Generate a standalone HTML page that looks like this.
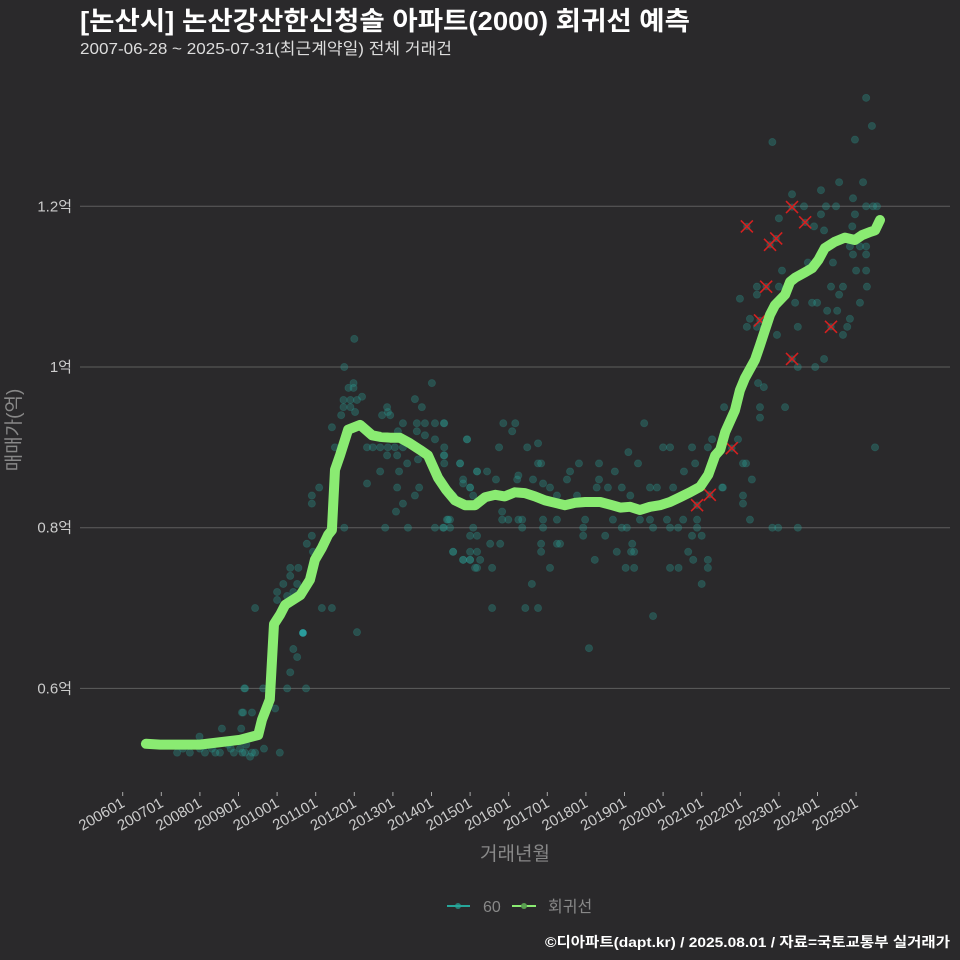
<!DOCTYPE html>
<html><head><meta charset="utf-8">
<style>
html,body{margin:0;padding:0;background:#2a292b;}
svg{display:block;font-family:"Liberation Sans","Noto Sans CJK KR",sans-serif;}
</style></head>
<body>
<svg id="chart" width="960" height="960" viewBox="0 0 960 960">
<rect width="960" height="960" fill="#2a292b"/>
<text x="80" y="30" fill="#ffffff" font-size="26" font-weight="bold" textLength="610" lengthAdjust="spacingAndGlyphs">[논산시] 논산강산한신청솔 아파트(2000) 회귀선 예측</text>
<text x="80" y="54" fill="#dddddd" font-size="16" textLength="372" lengthAdjust="spacingAndGlyphs">2007-06-28 ~ 2025-07-31(최근계약일) 전체 거래건</text>
<g id="grid"></g>
<g id="yticks"></g>
<g id="xticks"></g>
<g id="points"></g>
<g id="outliers"></g>
<g id="line"></g>
<text x="20" y="430" fill="#888888" font-size="19" text-anchor="middle" transform="rotate(-90 20 430)">매매가(억)</text>
<text x="515" y="860" fill="#888888" font-size="19" text-anchor="middle">거래년월</text>
<g>
<g>
<line x1="447" y1="906" x2="470" y2="906" stroke="#26a69a" stroke-width="2"/>
<circle cx="458" cy="906" r="3" fill="#26a69a" opacity="0.7"/>
<text x="483" y="912" fill="#888888" font-size="16">60</text></g>
<g>
<line x1="512" y1="906" x2="536" y2="906" stroke="#8aeb72" stroke-width="2"/>
<circle cx="524" cy="906" r="3" fill="#5aa050"/>
<text x="548" y="912" fill="#888888" font-size="16">회귀선</text></g>
</g>
<text x="950" y="947" fill="#ffffff" font-size="14" font-weight="bold" text-anchor="end" textLength="405" lengthAdjust="spacingAndGlyphs">©디아파트(dapt.kr) / 2025.08.01 / 자료=국토교통부 실거래가</text>
</svg>
<script>
const yTicks = [0.6, 0.8, 1.0, 1.2];
const yTickLabels = ["0.6억", "0.8억", "1억", "1.2억"];
const xTickYears = [2006,2007,2008,2009,2010,2011,2012,2013,2014,2015,2016,2017,2018,2019,2020,2021,2022,2023,2024,2025];
const xTickLabels = ["200601","200701","200801","200901","201001","201101","201201","201301","201401","201501","201601","201701","201801","201901","202001","202101","202201","202301","202401","202501"];
const lineYears = [2006.60,2006.97,2008.0,2009.04,2009.51,2009.61,2009.81,2009.92,2010.08,2010.21,2010.60,2010.85,2010.98,2011.16,2011.32,2011.42,2011.50,2011.63,2011.84,2012.15,2012.46,2012.67,2012.93,2013.18,2013.44,2013.70,2013.91,2014.17,2014.38,2014.61,2014.87,2015.13,2015.39,2015.65,2015.90,2016.16,2016.42,2016.68,2016.94,2017.20,2017.46,2017.72,2017.98,2018.37,2018.68,2018.89,2019.14,2019.40,2019.66,2019.92,2020.18,2020.44,2020.70,2020.96,2021.17,2021.35,2021.48,2021.61,2021.86,2021.99,2022.12,2022.38,2022.51,2022.64,2022.77,2022.90,2023.16,2023.29,2023.42,2023.68,2023.86,2024.02,2024.19,2024.45,2024.71,2024.97,2025.15,2025.36,2025.49,2025.62];
const lineValues = [0.531,0.530,0.530,0.536,0.542,0.561,0.586,0.680,0.692,0.704,0.716,0.735,0.760,0.775,0.791,0.797,0.872,0.890,0.922,0.928,0.915,0.913,0.912,0.912,0.905,0.897,0.890,0.862,0.847,0.834,0.828,0.828,0.838,0.841,0.839,0.844,0.843,0.839,0.834,0.831,0.828,0.831,0.832,0.832,0.828,0.825,0.826,0.822,0.826,0.828,0.832,0.838,0.844,0.851,0.866,0.890,0.897,0.919,0.946,0.971,0.986,1.009,1.027,1.046,1.065,1.077,1.090,1.106,1.111,1.118,1.123,1.133,1.148,1.156,1.161,1.158,1.164,1.168,1.170,1.183];
const pointYears = [2007.41,2007.56,2007.74,2007.92,2008.13,2008.31,2008.52,2008.73,2008.88,2009.04,2009.17,2009.30,2009.43,2009.66,2010.07,2007.60,2008.00,2008.40,2008.80,2009.10,2009.20,2009.35,
2009.07,2009.12,2009.15,2009.43,2008.57,2007.99,
2010.34,2010.55,2010.34,2010.16,2010.52,2010.0,2010.26,2010.42,2010.0,2011.16,2011.42,2012.07,2010.42,2010.52,2010.34,2009.17,2009.64,2010.26,2010.75,2009.09,2009.35,2009.95,
2011.09,2010.90,2010.90,2010.90,2010.77,2010.93,
2012.0,2011.74,2011.98,2011.85,2011.98,2011.72,2011.9,2012.07,2012.2,2011.72,2011.9,2012.02,2011.66,2011.42,2011.5,
2014.01,2013.57,2013.75,2012.85,2012.87,2012.72,2012.93,2013.26,2013.62,2013.83,2014.09,2014.32,2013.13,2013.62,2013.83,2014.09,2012.33,2012.48,2012.67,2012.87,2013.05,2013.26,2012.85,2013.11,2014.32,2013.65,2014.74,2014.92,2012.67,2013.16,2013.37,2012.33,2013.11,2013.68,2013.57,2013.26,2013.08,2014.40,2014.48,2014.09,2014.32,2013.39,2012.80,2011.74,2014.56,2014.82,2015.0,2015.13,2014.82,2015.0,2015.18,
2014.33,2015.86,2016.17,2019.51,2016.09,2014.92,2021.27,2015.75,2016.48,2016.76,2020.0,2020.18,2020.75,2021.16,2014.33,2014.33,2019.1,2014.33,2014.74,2016.84,2016.76,2017.82,2018.34,2019.35,2022.07,2021.58,2022.51,
2015.18,2015.44,2016.25,2016.22,2017.59,2018.75,2018.34,2017.51,2014.82,2015.67,2016.63,2016.89,2020.54,2020.83,
2015.0,2017.07,2018.28,2018.57,2018.93,2019.66,2019.84,2020.26,2021.53,2021.55,
2014.56,2015.08,2017.25,2017.77,2019.15,2022.07,2022.07,
2015.83,2015.83,2016.25,2015.99,2016.35,2016.89,2017.25,2017.98,2018.7,2019.4,2019.66,2020.10,2020.52,2020.88,2014.43,2022.25,
2014.3,2014.48,2015.08,2016.35,2016.89,2017.93,2018.93,2019.06,2019.74,2020.18,2020.39,2020.88,2022.98,
2015.0,2015.18,2017.93,2018.5,2020.75,2021.0,
2015.52,2015.78,2016.84,2017.25,2017.33,2019.2,
2014.56,2015.0,2015.18,2016.84,2018.8,2019.17,2019.25,2020.65,
2014.82,2015.0,2015.26,2018.23,2021.16,2020.78,
2015.18,2015.57,2017.07,2019.03,2019.25,2020.18,2020.4,2021.16,
2016.6,2021.0,2015.57,2016.43,2016.76,2019.74,2018.08,
2025.26,2025.41,2024.97,2022.83,2023.34,2024.09,2024.56,2025.18,2024.92,2023.65,2024.22,2024.48,2025.26,2025.44,2025.54,2024.09,2024.97,2023.0,2023.91,2024.9,2024.17,2023.75,2024.40,2024.84,2025.1,2025.26,2024.92,2025.26,2023.08,2025.0,2025.26,
2022.43,2023.0,2024.35,2024.66,2025.28,2022.43,2021.99,2024.56,2023.42,2023.86,2023.99,2025.1,2024.25,2024.51,2022.25,2024.84,2022.17,2022.43,2023.49,2024.77,2022.95,2024.66,2024.17,2023.49,2023.94,2022.46,2022.61,2022.51,2021.94,2022.15,2022.30,2022.83,2023.49,2025.49,2023.16];
const pointValues = [0.52,0.525,0.52,0.53,0.52,0.525,0.52,0.53,0.52,0.525,0.52,0.515,0.52,0.525,0.52,0.53,0.525,0.52,0.525,0.52,0.53,0.52,
0.55,0.57,0.60,0.70,0.55,0.54,
0.75,0.75,0.74,0.73,0.73,0.72,0.715,0.72,0.71,0.70,0.70,0.67,0.649,0.639,0.62,0.60,0.60,0.60,0.60,0.57,0.57,0.575,
0.85,0.84,0.83,0.79,0.78,0.77,
1.035,1.0,0.98,0.974,0.974,0.959,0.959,0.959,0.963,0.95,0.95,0.944,0.94,0.925,0.90,
0.98,0.96,0.95,0.95,0.944,0.94,0.94,0.93,0.93,0.93,0.93,0.93,0.92,0.92,0.915,0.91,0.90,0.90,0.90,0.90,0.90,0.90,0.89,0.89,0.89,0.885,0.88,0.91,0.87,0.87,0.88,0.855,0.85,0.85,0.84,0.83,0.82,0.81,0.81,0.80,0.80,0.80,0.80,0.80,0.77,0.76,0.76,0.75,0.855,0.85,0.87,
0.93,0.93,0.93,0.93,0.92,0.91,0.91,0.90,0.90,0.905,0.90,0.90,0.90,0.90,0.90,0.89,0.894,0.88,0.88,0.88,0.88,0.88,0.88,0.88,0.88,0.95,0.95,
0.87,0.87,0.865,0.86,0.87,0.87,0.86,0.86,0.86,0.86,0.86,0.855,0.87,0.88,
0.85,0.85,0.85,0.85,0.85,0.85,0.85,0.85,0.85,0.85,
0.84,0.84,0.84,0.84,0.84,0.84,0.83,
0.81,0.82,0.81,0.81,0.81,0.81,0.81,0.81,0.81,0.81,0.81,0.81,0.81,0.81,0.81,0.81,
0.80,0.80,0.80,0.80,0.80,0.80,0.80,0.80,0.80,0.80,0.80,0.80,0.80,
0.79,0.79,0.79,0.79,0.79,0.79,
0.78,0.78,0.78,0.78,0.78,0.78,
0.77,0.77,0.77,0.77,0.77,0.77,0.77,0.77,
0.76,0.76,0.76,0.76,0.76,0.76,
0.75,0.75,0.75,0.75,0.75,0.75,0.75,0.75,
0.73,0.73,0.70,0.70,0.70,0.69,0.65,
1.335,1.30,1.283,1.28,1.215,1.22,1.23,1.23,1.21,1.20,1.20,1.20,1.20,1.20,1.20,1.19,1.19,1.185,1.175,1.175,1.17,1.13,1.13,1.15,1.15,1.15,1.14,1.14,1.12,1.12,1.12,
1.10,1.10,1.10,1.10,1.10,1.09,1.085,1.09,1.08,1.08,1.08,1.08,1.07,1.07,1.06,1.06,1.05,1.05,1.05,1.05,1.04,1.04,1.01,1.0,1.0,0.98,0.975,0.937,0.91,0.88,0.86,0.80,0.80,0.90,0.95];
const highlightYears = [2010.67];
const highlightValues = [0.669];
const outlierYears = [2020.88,2021.21,2021.78,2022.17,2022.51,2022.67,2022.77,2022.93,2023.34,2023.34,2023.68,2024.35];
const outlierValues = [0.828,0.841,0.899,1.175,1.058,1.10,1.152,1.16,1.199,1.01,1.18,1.05];

const NS = "http://www.w3.org/2000/svg";
function xScale(yr){ return 122.7 + (yr - 2006) * 38.6; }
function yScale(v){ return 367 - (v - 1) * 803.5; }
function mk(tag, attrs, parent){
  const e = document.createElementNS(NS, tag);
  for (const k in attrs) e.setAttribute(k, attrs[k]);
  parent.appendChild(e);
  return e;
}
const grid = document.getElementById('grid');
const yt = document.getElementById('yticks');
yTicks.forEach((v, i) => {
  const l = mk('line', {x1: 80, x2: 950, y1: yScale(v), y2: yScale(v), stroke: '#5e5e5e', 'stroke-width': 1}, grid);
  
  
  const t = mk('text', {x: 72, y: yScale(v) + 5, fill: '#cccccc', 'font-size': 15, 'text-anchor': 'end'}, yt);
  t.textContent = yTickLabels[i];
  
  
});
const xt = document.getElementById('xticks');
xTickYears.forEach((yr, i) => {
  const x = xScale(yr);
  const tk = mk('line', {x1: x, x2: x, y1: 792, y2: 796, stroke: '#aaaaaa', 'stroke-width': 1}, xt);
  
  
  const t = mk('text', {x: x + 3, y: 806, fill: '#cccccc', 'font-size': 15, 'text-anchor': 'end', transform: 'rotate(-30 ' + (x + 3) + ' 806)'}, xt);
  t.textContent = xTickLabels[i];
  
  
});
const pg = document.getElementById('points');
pointYears.forEach((yr, i) => {
  const c = mk('circle', {cx: xScale(yr), cy: yScale(pointValues[i]), r: 3.6, fill: '#2a9d94', 'fill-opacity': 0.33, stroke: '#2a9d94', 'stroke-opacity': 0.25, 'stroke-width': 0.8}, pg);
  
  
});
highlightYears.forEach((yr, i) => {
  const c = mk('circle', {cx: xScale(yr), cy: yScale(highlightValues[i]), r: 3.8, fill: '#2ab0b0', 'fill-opacity': 0.85}, pg);
  
  
});
const og = document.getElementById('outliers');
outlierYears.forEach((yr, i) => {
  const x = xScale(yr), y = yScale(outlierValues[i]);
  mk('circle', {cx: x, cy: y, r: 3.6, fill: '#2a9d94', 'fill-opacity': 0.4}, og);
  const p = mk('path', {d: 'M' + (x-6) + ' ' + (y-6) + 'L' + (x+6) + ' ' + (y+6) + 'M' + (x+6) + ' ' + (y-6) + 'L' + (x-6) + ' ' + (y+6), stroke: '#d42020', 'stroke-width': 1.6, fill: 'none'}, og);
  
  
});
const lg = document.getElementById('line');
let d = '';
lineYears.forEach((yr, i) => { d += (i ? 'L' : 'M') + xScale(yr).toFixed(1) + ' ' + yScale(lineValues[i]).toFixed(1); });
const path = mk('path', {d: d, stroke: '#8aeb72', 'stroke-width': 10, fill: 'none', 'stroke-linecap': 'round', 'stroke-linejoin': 'round'}, lg);


</script>
</body></html>
